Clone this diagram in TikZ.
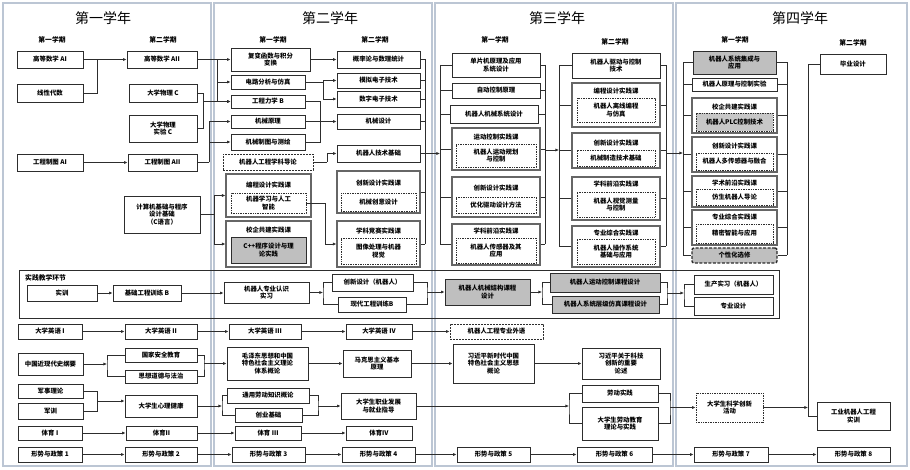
\documentclass[tikz,border=0pt]{standalone}
\usepackage{fontspec}
\setmainfont{Noto Sans CJK SC}
\usetikzlibrary{arrows.meta}
\definecolor{panelc}{RGB}{188,198,212}
\definecolor{linec}{RGB}{45,45,45}
\tikzset{
  box/.style={draw=linec,line width=.8pt,fill=white,inner sep=1pt,align=center,font=\bfseries\fontsize{6.4}{7.6}\selectfont},
  dbox/.style={box,dash pattern=on 1pt off .7pt},
  dashbox/.style={box,dash pattern=on 2pt off 1pt},
  shade/.style={box,fill=black!25},
  dshade/.style={dbox,fill=black!22},
  grp/.style={box,line width=1.1pt,draw=black!60},
  frame/.style={draw=linec,line width=.8pt,inner sep=0pt},
  elective/.style={box,fill=black!25,line width=1.4pt,dash pattern=on 3pt off 1.5pt,rounded corners=2pt},
  ttl/.style={font=\bfseries\fontsize{6.4}{7.6}\selectfont,inner sep=0pt},
  term/.style={font=\bfseries\fontsize{6.8}{8}\selectfont,inner sep=0pt},
  year/.style={font=\fontsize{14}{16}\selectfont,inner sep=0pt},
  panel/.style={draw=panelc,line width=1.6pt},
  link/.style={draw=linec,line width=.8pt},
}
% box from its corners: [style]{x1}{y1}{x2}{y2}{name}{text}
\newcommand{\cbox}[7][box]{\node[#1,minimum width={#4-#2},minimum height={#5-#3}] (#6) at ({(#2+#4)/2},{(#3+#5)/2}) {#7};}
% practice course group with its title
\newcommand{\grpbox}[7]{\cbox[grp]{#1}{#2}{#3}{#4}{#5}{}\node[ttl] (#5t) at ({(#1+#3)/2},#7) {#6};}
\begin{document}
\begin{tikzpicture}[x=1pt,y=-1pt,>={Latex[length=3.6pt,width=3.2pt]}]
\useasboundingbox (0,0) rectangle (910,470);
\fill[white] (0,0) rectangle (910,470);
\foreach \a/\b in {3/211,214/432,435/673,676/907}\draw[panel] (\a,3) rectangle (\b,466);
\foreach \x/\t/\n in {103/第一学年/yr1,330/第二学年/yr2,557/第三学年/yr3,800/第四学年/yr4}\node[year] (\n) at (\x,18) {\t};
\foreach \x/\y/\t/\n in {52/40/第一学期/sa1,163/40/第二学期/sb1,273/40/第一学期/sa2,375/40/第二学期/sb2,495/40/第一学期/sa3,615/42/第二学期/sb3,735/40/第一学期/sa4,853/43/第二学期/sb4}\node[term] (\n) at (\x,\y) {\t};
% first year
\cbox{17}{51}{83}{68}{gsA}{高等数学 AI}
\cbox{17}{84}{83}{102}{xxds}{线性代数}
\cbox{127}{51}{197}{68}{gsB}{高等数学 AII}
\cbox{129}{84}{197}{102}{wlC}{大学物理 C}
\cbox{129}{115}{197}{142}{wlsy}{大学物理\\实验 C}
\cbox{17}{154}{83}{171}{ztA}{工程制图 AI}
\cbox{128}{154}{197}{171}{ztB}{工程制图 AII}
\cbox{124}{196}{200}{233}{jsj}{计算机基础与程序\\设计基础\\（C语言）}
% second year
\cbox{231}{48}{310}{71}{fb}{复变函数与积分\\变换}
\cbox{231}{75}{305}{89}{dl}{电路分析与仿真}
\cbox{231}{95}{305}{108}{lx}{工程力学 B}
\cbox{231}{115}{305}{128}{jy}{机械原理}
\cbox{231}{134}{305}{150}{jz}{机械制图与测绘}
\cbox[dashbox]{223}{154}{313}{170}{intro}{机器人工程学科导论}
\grpbox{226}{174}{311}{217}{bc}{编程设计实践课}{185}
\cbox[dbox]{231}{193}{306}{213}{jqxx}{机器学习与人工\\智能}
\grpbox{226}{221}{311}{267}{xq}{校企共建实践课}{230}
\cbox[shade]{231}{237}{306}{263}{cpp}{C++程序设计与理\\论实践}
\cbox{337}{51}{420}{68}{gl}{概率论与数理统计}
\cbox{337}{73}{420}{88}{mn}{模拟电子技术}
\cbox{337}{91}{420}{107}{sz}{数字电子技术}
\cbox{337}{114}{420}{129}{jsj2}{机械设计}
\cbox{337}{145}{420}{162}{jsjc}{机器人技术基础}
\grpbox{337}{171}{420}{213}{cx}{创新设计实践课}{183}
\cbox[dbox]{341}{193}{416}{211}{cxyj}{机械创意设计}
\grpbox{337}{221}{420}{267}{jsx}{学科竞赛实践课}{231}
\cbox[dbox]{341}{238}{416}{264}{txcl}{图像处理与机器\\视觉}
% third year
\cbox{452}{53}{540}{77}{dpj}{单片机原理及应用\\系统设计}
\cbox{452}{83}{540}{98}{zk}{自动控制原理}
\cbox{450}{105}{538}{123}{jxs}{机器人机械系统设计}
\grpbox{452}{128}{540}{170}{yd}{运动控制实践课}{137}
\cbox[dbox]{456}{144}{536}{167}{ydgh}{机器人运动规划\\与控制}
\grpbox{452}{177}{540}{217}{cx3}{创新设计实践课}{188}
\cbox[dbox]{456}{197}{536}{213}{yhqd}{优化驱动设计方法}
\grpbox{452}{224}{540}{265}{qy3}{学科前沿实践课}{231}
\cbox[dbox]{456}{238}{536}{263}{cgq}{机器人传感器及其\\应用}
\cbox{572}{53}{660}{78}{qd}{机器人驱动与控制\\技术}
\grpbox{572}{83}{660}{127}{bc3}{编程设计实践课}{91}
\cbox[dbox]{577}{98}{655}{122}{lxbc}{机器人离线编程\\与仿真}
\grpbox{572}{133}{660}{168}{cx3b}{创新设计实践课}{143}
\cbox[dbox]{577}{150}{655}{166}{zzjs}{机械制造技术基础}
\grpbox{572}{177}{660}{220}{qy3b}{学科前沿实践课}{184}
\cbox[dbox]{577}{192}{655}{217}{sjcl}{机器人视觉测量\\与控制}
\grpbox{572}{226}{660}{267}{zh3}{专业综合实践课}{233}
\cbox[dbox]{577}{239}{655}{264}{czxt}{机器人操作系统\\基础与应用}
% fourth year
\cbox[shade]{693}{51}{776}{74}{xtjc}{机器人系统集成与\\应用}
\cbox{692}{78}{777}{91}{ylsy}{机器人原理与控制实验}
\grpbox{692}{98}{777}{133}{xq4}{校企共建实践课}{107}
\cbox[dshade]{696}{113}{773}{131}{plc}{机器人PLC控制技术}
\grpbox{692}{137}{777}{172}{cx4}{创新设计实践课}{146}
\cbox[dbox]{696}{153}{773}{170}{dcg}{机器人多传感器与融合}
\grpbox{692}{176}{777}{207}{xs4}{学术前沿实践课}{183}
\cbox[dbox]{696}{189}{773}{205}{fsjqr}{仿生机器人导论}
\grpbox{692}{210}{777}{245}{zh4}{专业综合实践课}{217}
\cbox[dbox]{696}{224}{773}{243}{jmzn}{精密智能与应用}
\cbox[elective]{692}{248}{777}{263}{gxh}{个性化选修}
\cbox{820}{54}{886}{74}{bysj}{毕业设计}
% links first and second year
\draw[link,->] (gsA.east) -- (gsB.west);
\coordinate (j1) at (97,59.5);
\draw[link] (xxds.east) -| (j1);
\draw[link,->] (gsB.east) -- (fb.west);
\coordinate (j2) at (217,59.5);
\draw[link,->] (j2) |- (dl.west);
\draw[link,->] (j2) |- (lx.west);
\coordinate (j3) at (203,101.5);
\draw[link] (wlC.east) -| (j3);
\draw[link] (wlsy.east) -| (j3);
\draw[link,->] (j3) -- (lx.west);
\draw[link,->] (ztA.east) -- (ztB.west);
\coordinate (j4) at (209,162.5);
\draw[link] (ztB.east) -- (j4);
\draw[link,->] (j4) |- (jy.west);
\draw[link,->] (j4) |- (jz.west);
\coordinate (j5) at (214,214.5);
\draw[link] (jsj.east) -- (j5);
\draw[link,->] (j5) |- (bc.west);
\draw[link,->] (j5) |- (xq.west);
\draw[link,->] (fb.east) -- (gl.west);
\coordinate (j6) at (323,82);
\draw[link] (dl.east) -- (j6);
\draw[link,->] (j6) |- (mn.west);
\draw[link,->] (j6) |- (sz.west);
\coordinate (j7) at (320,121.5);
\draw[link] (lx.east) -| (j7);
\draw[link] (jz.east) -| (j7);
\draw[link,->] (jy.east) -- (jsj2.west);
\coordinate (j8) at (327,162);
\draw[link] (intro.east) -- (j8);
\draw[link,->] (j8) |- (jsjc.west);
\coordinate (j9) at (325,244);
\draw[link] (jqxx.east) -| (j9);
\draw[link,->] (j9) -- (jsx.west);
% buses between the semesters
\coordinate (r2a) at (425,59.5); \coordinate (r2b) at (425,244);
\draw[link] (r2a) -- (r2b);
\foreach \n in {gl,mn,sz,jsj2,jsjc,cx,jsx}\draw[link] (\n.east) -- (\n.east -| r2a);
\coordinate (l3a) at (440,65); \coordinate (l3b) at (440,244.5);
\coordinate (r3a) at (545,65); \coordinate (r3b) at (545,244.5);
\draw[link] (l3a) -- (l3b); \draw[link] (r3a) -- (r3b);
\foreach \n in {dpj,zk,jxs,yd,cx3,qy3}{\draw[link] (\n.west) -- (\n.west -| l3a); \draw[link] (\n.east) -- (\n.east -| r3a);}
\coordinate (l3c) at (559,65.5); \coordinate (l3d) at (559,246.5);
\coordinate (r3c) at (666,65.5); \coordinate (r3d) at (666,246.5);
\draw[link] (l3c) -- (l3d); \draw[link] (r3c) -- (r3d);
\foreach \n in {qd,bc3,cx3b,qy3b,zh3}{\draw[link] (\n.west) -- (\n.west -| l3c); \draw[link] (\n.east) -- (\n.east -| r3c);}
\coordinate (l4a) at (683,62.5); \coordinate (l4b) at (683,255.5);
\coordinate (r4a) at (787,62.5); \coordinate (r4b) at (787,255.5);
\draw[link] (l4a) -- (l4b); \draw[link] (r4a) -- (r4b);
\foreach \n in {xtjc,ylsy,xq4,cx4,xs4,zh4,gxh}{\draw[link] (\n.west) -- (\n.west -| l4a); \draw[link] (\n.east) -- (\n.east -| r4a);}
\coordinate (a23) at (425,153.5); \draw[link,->] (a23) -- (a23 -| l3a);
\coordinate (a33) at (545,150); \draw[link,->] (a33) -- (a33 -| l3c);
\coordinate (a34) at (666,153); \draw[link,->] (a34) -- (a34 -| l4a);
% practice
\cbox[frame]{19}{270}{779}{318}{sjhj}{}
\node[term,anchor=west] (sjl) at (25,278) {实践教学环节};
\cbox{27}{285}{97}{301}{sx}{实训}
\cbox{113}{285}{181}{301}{jcgx}{基础工程训练 B}
\cbox{224}{282}{309}{303}{rzsx}{机器人专业认识\\实习}
\cbox{332}{274}{413}{291}{cxjqr}{创新设计（机器人）}
\cbox{338}{297}{406}{312}{xdgx}{现代工程训练B}
\cbox[shade]{445}{279}{530}{305}{jgkc}{机器人机械结构课程\\设计}
\cbox[shade]{550}{273}{660}{292}{ydkc}{机器人运动控制课程设计}
\cbox[shade]{552}{296}{659}{313}{fzkc}{机器人系统层级仿真课程设计}
\cbox{694}{275}{773}{294}{scsx}{生产实习（机器人）}
\cbox{694}{297}{773}{315}{zysj}{专业设计}
\draw[link,->] (sx.east) -- (jcgx.west);
\draw[link,->] (jcgx.east) -- (rzsx.west |- jcgx.east);
\coordinate (k1) at (323,292.5);
\draw[link,->] (rzsx.east) -- (k1);
\draw[link] (cxjqr.west) -| (k1) |- (xdgx.west);
\coordinate (k2) at (427,292);
\draw[link] (cxjqr.east) -| (k2) |- (xdgx.east);
\draw[link,->] (k2) -- (jgkc.west);
\coordinate (k3) at (542,292);
\draw[link,->] (jgkc.east) -- (k3);
\draw[link] (ydkc.west) -| (k3) |- (fzkc.west);
\coordinate (k4) at (667,293);
\draw[link] (ydkc.east) -| (k4) |- (fzkc.east);
\coordinate (k5) at (684,293);
\draw[link,->] (k4) -- (k5);
\draw[link] (scsx.west) -| (k5) |- (zysj.west);
% general courses
\cbox{18}{324}{82}{339}{yyI}{大学英语 I}
\cbox{125}{324}{197}{339}{yyII}{大学英语 II}
\cbox{229}{324}{301}{339}{yyIII}{大学英语 III}
\cbox{346}{324}{412}{339}{yyIV}{大学英语 IV}
\cbox[dashbox]{450}{324}{543}{339}{zywy}{机器人工程专业外语}
\foreach \a/\b in {yyI/yyII,yyII/yyIII,yyIII/yyIV,yyIV/zywy}\draw[link,->] (\a.east) -- (\b.west);
\cbox{18}{353}{83}{375}{gy}{中国近现代史纲要}
\cbox{125}{348}{197}{362}{gjaq}{国家安全教育}
\cbox{125}{370}{197}{383}{ddfz}{思想道德与法治}
\cbox{227}{347}{308}{380}{mzd}{毛泽东思想和中国\\特色社会主义理论\\体系概论}
\cbox{343}{350}{411}{377}{mks}{马克思主义基本\\原理}
\cbox{453}{344}{534}{383}{xjp}{习近平新时代中国\\特色社会主义思想\\概论}
\cbox{582}{348}{660}{379}{kjcx}{习近平关于科技\\创新的重要\\论述}
\coordinate (m1) at (107,364);
\draw[link,->] (gy.east) -- (m1);
\draw[link] (gjaq.west) -| (m1) |- (ddfz.west);
\coordinate (m2) at (204,363.5);
\draw[link] (gjaq.east) -| (m2) |- (ddfz.east);
\draw[link,->] (m2) -- (mzd.west);
\foreach \a/\b in {mzd/mks,mks/xjp,xjp/kjcx}\draw[link,->] (\a.east) -- (\b.west);
\cbox{18}{384}{83}{398}{jsll}{军事理论}
\cbox{18}{403}{83}{419}{jx}{军训}
\cbox{125}{395}{197}{417}{xljk}{大学生心理健康}
\cbox{227}{388}{309}{403}{ldgl}{通用劳动知识概论}
\cbox{235}{408}{302}{422}{cyjc}{创业基础}
\cbox{341}{393}{416}{419}{zyfz}{大学生职业发展\\与就业指导}
\cbox{582}{385}{658}{402}{ldsj}{劳动实践}
\cbox{582}{407}{658}{440}{ldjy}{大学生劳动教育\\理论与实践}
\cbox[dbox]{696}{393}{763}{422}{kxcx}{大学生科学创新\\活动}
\cbox{817}{402}{890}{430}{gysx}{工业机器人工程\\实训}
\coordinate (n1) at (97,401);
\draw[link] (jsll.east) -| (n1);
\draw[link] (jx.east) -| (n1);
\draw[link,->] (n1) -- (n1 -| xljk.west);
\coordinate (n2) at (222,406);
\draw[link,->] (xljk.east) -- (n2);
\draw[link] (ldgl.west) -| (n2) |- (cyjc.west);
\coordinate (n3) at (318,406);
\draw[link] (ldgl.east) -| (n3) |- (cyjc.east);
\draw[link,->] (n3) -- (zyfz.west);
\coordinate (n4) at (569,406);
\draw[link,->] (zyfz.east) -- (n4);
\draw[link] (ldsj.west) -| (n4) |- (ldjy.west);
\coordinate (n5) at (670,407.5);
\draw[link] (ldsj.east) -| (n5) |- (ldjy.east);
\draw[link,->] (n5) -- (kxcx.west);
\coordinate (n6) at (808,407.5);
\draw[link,->] (kxcx.east) -- (n6);
\draw[link] (bysj.west) -| (n6) |- (gysx.west);
\cbox{18}{426}{82}{440}{tyI}{体育 I}
\cbox{126}{426}{197}{440}{tyII}{体育II}
\cbox{235}{426}{301}{440}{tyIII}{体育 III}
\cbox{346}{426}{412}{440}{tyIV}{体育IV}
\foreach \a/\b in {tyI/tyII,tyII/tyIII,tyIII/tyIV}\draw[link,->] (\a.east) -- (\b.west);
\foreach \i/\a/\b in {1/18/82,2/125/197,3/232/305,4/342/415,5/457/530,6/577/652,7/694/768,8/817/890}{\cbox{\a}{447}{\b}{462}{xs\i}{形势与政策 \i}}
\foreach \i [remember=\i as \j (initially 1)] in {2,...,8}\draw[link,->] (xs\j.east) -- (xs\i.west);
\end{tikzpicture}
\end{document}
